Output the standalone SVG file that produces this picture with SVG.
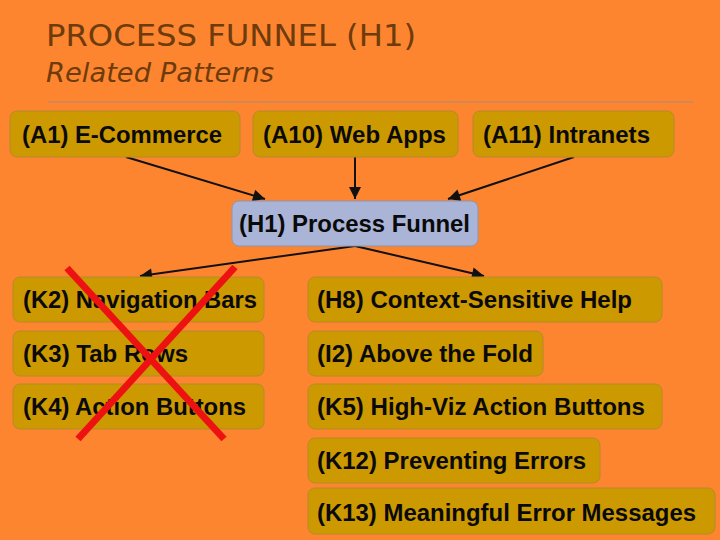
<svg xmlns="http://www.w3.org/2000/svg" width="720" height="540" viewBox="0 0 720 540">
<style>
.bg{fill:#fd852f}
.title{font-family:"DejaVu Sans","Liberation Sans",sans-serif;fill:#6e3b0c}
.box{fill:#cc9900;stroke:#b58a2c;stroke-width:1}
.hub{fill:#aab4d6;stroke:#8d94b0;stroke-width:1}
.lbl{font-family:"Liberation Sans",Arial,sans-serif;font-weight:bold;font-size:23px;fill:#0a0a0a}
.edge{stroke:#111;stroke-width:2;fill:none;marker-end:url(#ah)}
.x{stroke:#ee1111;stroke-width:7;stroke-linecap:butt}
</style>
<defs>
<marker id="ah" viewBox="0 0 10 10" refX="10" refY="5" markerWidth="7" markerHeight="6" orient="auto" markerUnits="strokeWidth">
<path d="M0,0 L10,5 L0,10 z" fill="#111"/>
</marker>
</defs>
<rect class="bg" x="0" y="0" width="720" height="540"/>
<g id="header">
<text class="title" x="46" y="46" font-size="31" textLength="370" lengthAdjust="spacingAndGlyphs">PROCESS FUNNEL (H1)</text>
<text class="title" x="46" y="82" font-size="26" font-style="italic" textLength="228" lengthAdjust="spacingAndGlyphs">Related Patterns</text>
<line x1="48" y1="102" x2="693" y2="102" stroke="#a88a7a" stroke-width="1"/>
</g>
<g id="connectors">
<line class="edge" x1="126" y1="157" x2="265" y2="199"/>
<line class="edge" x1="355" y1="157" x2="355" y2="199"/>
<line class="edge" x1="574" y1="157" x2="448" y2="199"/>
<line class="edge" x1="355" y1="246" x2="140" y2="276"/>
<line class="edge" x1="355" y1="246" x2="484" y2="276"/>
</g>
<g id="A1"><rect class="box" x="10" y="111" width="230" height="46" rx="7"/><text class="lbl" x="22" y="143" textLength="200" lengthAdjust="spacingAndGlyphs">(A1) E-Commerce</text></g>
<g id="A10"><rect class="box" x="253" y="111" width="205" height="46" rx="7"/><text class="lbl" x="263" y="143" textLength="183" lengthAdjust="spacingAndGlyphs">(A10) Web Apps</text></g>
<g id="A11"><rect class="box" x="473" y="111" width="201" height="46" rx="7"/><text class="lbl" x="483" y="143" textLength="167" lengthAdjust="spacingAndGlyphs">(A11) Intranets</text></g>
<g id="H1"><rect class="hub" x="232" y="201" width="246" height="45" rx="7"/><text class="lbl" x="239" y="232" textLength="231" lengthAdjust="spacingAndGlyphs">(H1) Process Funnel</text></g>
<g id="K2"><rect class="box" x="13" y="277" width="251" height="45" rx="7"/><text class="lbl" x="23" y="308" textLength="234" lengthAdjust="spacingAndGlyphs">(K2) Navigation Bars</text></g>
<g id="K3"><rect class="box" x="13" y="331" width="251" height="45" rx="7"/><text class="lbl" x="23" y="362" textLength="165" lengthAdjust="spacingAndGlyphs">(K3) Tab Rows</text></g>
<g id="K4"><rect class="box" x="13" y="384" width="251" height="45" rx="7"/><text class="lbl" x="23" y="415" textLength="223" lengthAdjust="spacingAndGlyphs">(K4) Action Buttons</text></g>
<g id="H8"><rect class="box" x="308" y="277" width="354" height="45" rx="7"/><text class="lbl" x="317" y="308" textLength="315" lengthAdjust="spacingAndGlyphs">(H8) Context-Sensitive Help</text></g>
<g id="I2"><rect class="box" x="308" y="331" width="235" height="45" rx="7"/><text class="lbl" x="317" y="362" textLength="216" lengthAdjust="spacingAndGlyphs">(I2) Above the Fold</text></g>
<g id="K5"><rect class="box" x="308" y="384" width="354" height="45" rx="7"/><text class="lbl" x="317" y="415" textLength="328" lengthAdjust="spacingAndGlyphs">(K5) High-Viz Action Buttons</text></g>
<g id="K12"><rect class="box" x="308" y="438" width="292" height="45" rx="7"/><text class="lbl" x="317" y="469" textLength="269" lengthAdjust="spacingAndGlyphs">(K12) Preventing Errors</text></g>
<g id="K13"><rect class="box" x="308" y="488" width="407" height="46" rx="7"/><text class="lbl" x="317" y="521" textLength="379" lengthAdjust="spacingAndGlyphs">(K13) Meaningful Error Messages</text></g>
<g id="cross">
<line class="x" x1="67" y1="268" x2="224" y2="439"/>
<line class="x" x1="235" y1="267" x2="78" y2="439"/>
</g>
</svg>
